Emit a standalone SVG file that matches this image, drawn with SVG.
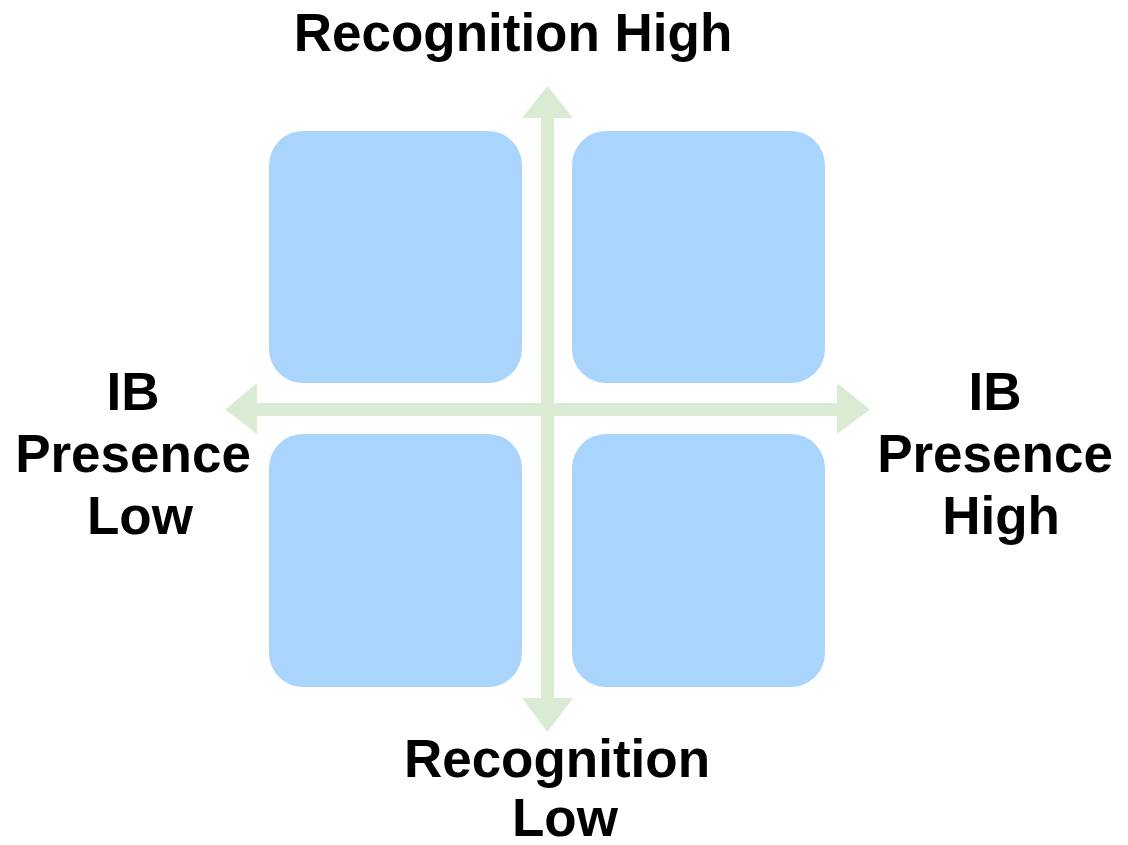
<svg xmlns="http://www.w3.org/2000/svg" width="1128" height="845" viewBox="0 0 1128 845">
<style>
.box{fill:#A9D5FD;}
.ax{fill:#D9EBD3;}
.lbl{font-family:"Liberation Sans",Arial,sans-serif;font-weight:bold;font-size:53px;fill:#000;text-anchor:middle;}
</style>
<rect width="1128" height="845" fill="#fff"/>
<g id="q-top-left"><rect class="box" x="269" y="131" width="253" height="252" rx="34"/></g>
<g id="q-top-right"><rect class="box" x="572" y="131" width="253" height="252" rx="34"/></g>
<g id="q-bottom-left"><rect class="box" x="269" y="434" width="253" height="253" rx="34"/></g>
<g id="q-bottom-right"><rect class="box" x="572" y="434" width="253" height="253" rx="34"/></g>
<g id="connectors">
<polygon class="ax" points="547.5,86 573,118 554,118 554,698 573,698 547.5,732 522,698 541,698 541,118 522,118"/>
<polygon class="ax" points="225,409.5 257,383 257,403 837,403 837,383 870,409.5 837,434 837,416 257,416 257,434"/>
</g>
<g id="label-top"><text class="lbl" x="513" y="51">Recognition High</text></g>
<g id="label-left"><text class="lbl" x="133" y="410">IB</text><text class="lbl" x="133" y="472">Presence</text><text class="lbl" x="140" y="534">Low</text></g>
<g id="label-right"><text class="lbl" x="995" y="410">IB</text><text class="lbl" x="995" y="472">Presence</text><text class="lbl" x="1001" y="534">High</text></g>
<g id="label-bottom"><text class="lbl" x="557" y="777">Recognition</text><text class="lbl" x="565" y="836">Low</text></g>
</svg>
